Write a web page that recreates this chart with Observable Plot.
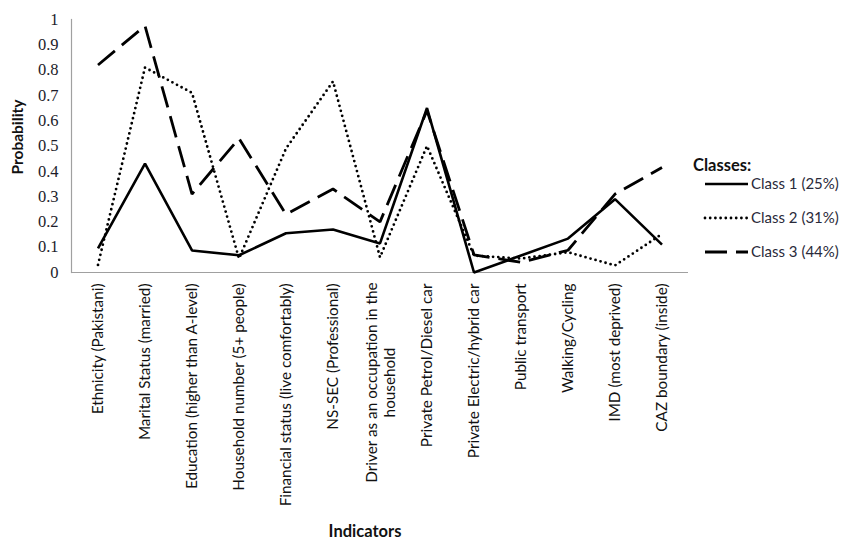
<!DOCTYPE html>
<html>
<head>
<meta charset="utf-8">
<script src="https://cdn.jsdelivr.net/npm/d3@7"></script>
<script src="https://cdn.jsdelivr.net/npm/@observablehq/plot@0.6"></script>
<style>
  html, body { margin: 0; padding: 0; background: #fff; }
  #chart { width: 841px; height: 541px; }
</style>
</head>
<body>
<div id="chart"></div>
<script>
const indicators = [
  "Ethnicity (Pakistani)",
  "Marital Status (married)",
  "Education (higher than A-level)",
  "Household number (5+ people)",
  "Financial status (live comfortably)",
  "NS-SEC (Professional)",
  "Driver as an occupation in the household",
  "Private Petrol/Diesel car",
  "Private Electric/hybrid car",
  "Public transport",
  "Walking/Cycling",
  "IMD (most deprived)",
  "CAZ boundary (inside)"
];
const class1 = [0.095, 0.43, 0.087, 0.068, 0.155, 0.17, 0.115, 0.65, 0.0, 0.067, 0.134, 0.29, 0.11];
const class2 = [0.03, 0.81, 0.71, 0.055, 0.49, 0.755, 0.06, 0.50, 0.067, 0.055, 0.08, 0.028, 0.152];
const class3 = [0.82, 0.975, 0.31, 0.53, 0.23, 0.33, 0.20, 0.64, 0.07, 0.04, 0.088, 0.31, 0.415];
const classNames = ["Class 1 (25%)", "Class 2 (31%)", "Class 3 (44%)"];
const yTicks = [0, 0.1, 0.2, 0.3, 0.4, 0.5, 0.6, 0.7, 0.8, 0.9, 1];

const driverLabel = indicators[6];
const toRows = (vals, cls) => indicators.map((ind, i) => ({indicator: ind, value: vals[i], cls}));
const rows1 = toRows(class1, classNames[0]);
const rows2 = toRows(class2, classNames[1]);
const rows3 = toRows(class3, classNames[2]);

const labelFont = "Lato, 'Open Sans', sans-serif";
const serifFont = "'Liberation Serif', 'DejaVu Serif', serif";
const labelSize = 15.3;
const styles = [
  {strokeWidth: 2.6, strokeDasharray: null, strokeLinecap: "butt"},
  {strokeWidth: 2.8, strokeDasharray: "0,5.2", strokeLinecap: "round"},
  {strokeWidth: 2.8, strokeDasharray: "22,9", strokeLinecap: "butt"}
];

const plot = Plot.plot({
  width: 841,
  height: 541,
  marginLeft: 71,
  marginRight: 153,
  marginTop: 19,
  marginBottom: 269,
  style: {background: "#fff", overflow: "visible"},
  x: {type: "band", domain: indicators, padding: 0},
  y: {domain: [0, 1]},
  marks: [
    Plot.axisY({
      ticks: yTicks, tickSize: 0, tickPadding: 13, label: null,
      fontFamily: serifFont,
      fontSize: 16.5, fill: "#1c1c2a", tickFormat: d => String(d)
    }),
    Plot.axisX({
      tickSize: 0, tickPadding: 11, tickRotate: -90, label: null,
      fontFamily: labelFont, fontSize: labelSize, fill: "#111",
      tickFormat: d => d === driverLabel ? "" : d
    }),
    Plot.text([driverLabel], {
      x: d => d, frameAnchor: "bottom",
      text: () => "Driver as an occupation in the\nhousehold",
      rotate: -90, textAnchor: "middle", lineAnchor: "middle",
      lineHeight: 1.2,
      fontFamily: labelFont, fontSize: labelSize, fill: "#111", dy: 110
    }),
    Plot.frame({anchor: "left", stroke: "#a0a0a0", strokeWidth: 1.2}),
    Plot.ruleY([0], {stroke: "#a0a0a0", strokeWidth: 1.2}),
    Plot.line(rows1, {x: "indicator", y: "value", stroke: "#000", ...styles[0], strokeLinejoin: "miter"}),
    Plot.line(rows2, {x: "indicator", y: "value", stroke: "#000", ...styles[1]}),
    Plot.line(rows3, {x: "indicator", y: "value", stroke: "#000", ...styles[2], strokeLinejoin: "miter"})
  ]
});

document.getElementById("chart").appendChild(plot);

const svg = d3.select(plot);
// make sure y tick labels use the serif face
svg.selectAll('g[aria-label="y-axis tick label"]')
  .attr("font-family", serifFont)
  .style("font-family", serifFont);

// Axis titles
svg.append("text")
  .attr("transform", "translate(23,137) rotate(-90)")
  .attr("text-anchor", "middle")
  .attr("font-family", labelFont)
  .attr("font-weight", "bold")
  .attr("font-size", 15.5)
  .attr("fill", "#111")
  .text("Probability");
svg.append("text")
  .attr("x", 365).attr("y", 537)
  .attr("text-anchor", "middle")
  .attr("font-family", labelFont)
  .attr("font-weight", "bold")
  .attr("font-size", 16.5)
  .attr("fill", "#111")
  .text("Indicators");

// Legend
const lg = svg.append("g").attr("font-family", labelFont).attr("text-anchor", "start");
lg.append("text")
  .attr("x", 693).attr("y", 165).attr("dy", "0.35em")
  .attr("text-anchor", "start")
  .attr("font-weight", "bold").attr("font-size", 16.5).attr("fill", "#111")
  .text("Classes:");
const legendY = [184, 218, 252];
classNames.forEach((name, i) => {
  const s = styles[i];
  lg.append("line")
    .attr("x1", 705).attr("x2", 748)
    .attr("y1", legendY[i]).attr("y2", legendY[i])
    .attr("stroke", "#000")
    .attr("stroke-width", s.strokeWidth)
    .attr("stroke-linecap", s.strokeLinecap)
    .attr("stroke-dasharray", s.strokeDasharray);
  lg.append("text")
    .attr("x", 751).attr("y", legendY[i]).attr("dy", "0.35em")
    .attr("text-anchor", "start")
    .attr("font-size", 15).attr("fill", "#2a2a3a")
    .text(name);
});
</script>
</body>
</html>
